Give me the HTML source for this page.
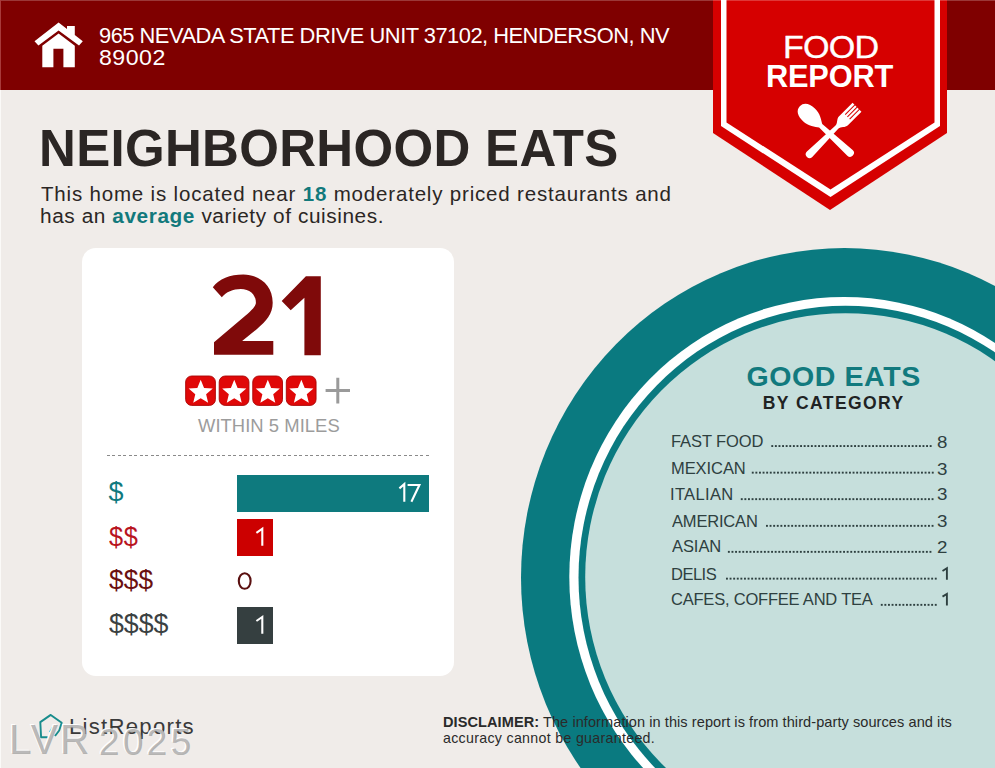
<!DOCTYPE html>
<html><head><meta charset="utf-8">
<style>
html,body{margin:0;padding:0;}
body{width:995px;height:768px;overflow:hidden;position:relative;background:#f0ece9;font-family:"Liberation Sans",sans-serif;}
.abs{position:absolute;}
.t{position:absolute;white-space:nowrap;}
.dots{position:absolute;height:1.8px;background:repeating-linear-gradient(90deg,#34403f 0 1.8px,transparent 1.8px 3.6px);}
</style></head>
<body>
<div class="abs" style="left:0;top:0;width:995px;height:90px;background:#7f0000;"></div>
<svg class="abs" style="left:0;top:0" width="120" height="90" viewBox="0 0 120 90">
  <path d="M34.5 41.2 L58.6 22.6 L67 29 L67 26 L74.8 26 L74.8 35 L82.8 41.2 L79 45.6 L58.6 30.6 L38.4 45.6 Z" fill="#fff"/>
  <path d="M42.3 45.8 L58.6 33.4 L74.8 45.8 L74.8 67.3 L63.4 67.3 L63.4 48.8 L53.4 48.8 L53.4 67.3 L42.3 67.3 Z" fill="#fff"/>
</svg>
<svg class="abs" style="left:0;top:0" width="995" height="230" viewBox="0 0 995 230">
  <polygon points="713,0 947,0 947,133 830,210 713,133" fill="#d60000"/>
  <polygon points="721,0 940,0 940,126 830.5,197 721,126" fill="#fff"/>
  <polygon points="726.5,0 934.5,0 934.5,122.5 830.5,189.5 726.5,122.5" fill="#d60000"/>
  <g fill="#fff">
    <g transform="translate(799.8,106.3) rotate(42.9)">
      <path d="M0,0 C0,-6 5.5,-8.7 12.5,-8.7 C20,-8.7 25,-4.5 28.5,-2.3 L68.5,-3.9 A3.9,3.9 0 0 1 68.5,3.9 L28.5,2.3 C25,4.5 20,8.7 12.5,8.7 C5.5,8.7 0,6 0,0 Z"/>
    </g>
    <g transform="translate(806.9,156.9) rotate(-44.7)">
      <path d="M3.8,-3.8 L42,-2.1 C46,-2.1 47.5,-6.3 51.5,-6.3 L70.5,-6.3 L70.5,6.3 L51.5,6.3 C47.5,6.3 46,2.1 42,2.1 L3.8,3.8 A3.8,3.8 0 0 1 3.8,-3.8 Z"/>
      <rect x="57" y="-3.65" width="14" height="1" fill="#d60000"/>
      <rect x="57" y="-0.5" width="14" height="1" fill="#d60000"/>
      <rect x="57" y="2.65" width="14" height="1" fill="#d60000"/>
    </g>
  </g>
</svg>
<div class="abs" style="left:82px;top:248px;width:372px;height:428px;background:#fff;border-radius:14px;"></div>
<svg class="abs" style="left:0;top:0" width="400" height="420" viewBox="0 0 400 420">
  <rect x="185.65" y="376" width="29.75" height="29.4" rx="6" fill="#e00808" stroke="#a80404" stroke-width="0.9"/>
  <polygon points="200.70,379.80 204.05,387.89 212.78,388.58 206.12,394.26 208.16,402.77 200.70,398.20 193.24,402.77 195.28,394.26 188.62,388.58 197.35,387.89" fill="#fff"/>
  <rect x="219.20" y="376" width="29.75" height="29.4" rx="6" fill="#e00808" stroke="#a80404" stroke-width="0.9"/>
  <polygon points="234.25,379.80 237.60,387.89 246.33,388.58 239.67,394.26 241.71,402.77 234.25,398.20 226.79,402.77 228.83,394.26 222.17,388.58 230.90,387.89" fill="#fff"/>
  <rect x="252.75" y="376" width="29.75" height="29.4" rx="6" fill="#e00808" stroke="#a80404" stroke-width="0.9"/>
  <polygon points="267.80,379.80 271.15,387.89 279.88,388.58 273.22,394.26 275.26,402.77 267.80,398.20 260.34,402.77 262.38,394.26 255.72,388.58 264.45,387.89" fill="#fff"/>
  <rect x="286.30" y="376" width="29.75" height="29.4" rx="6" fill="#e00808" stroke="#a80404" stroke-width="0.9"/>
  <polygon points="301.35,379.80 304.70,387.89 313.43,388.58 306.77,394.26 308.81,402.77 301.35,398.20 293.89,402.77 295.93,394.26 289.27,388.58 298.00,387.89" fill="#fff"/>
  <path d="M325.6 390.5 H350 M337.8 377.7 V403.4" stroke="#9a9a9a" stroke-width="3"/>
</svg>
<svg class="abs" style="left:0;top:0" width="400" height="400" viewBox="0 0 400 400">
  <g fill="#7f0a0a">
  <path d="M212.8,287.2 C219,279 230,274.6 243.3,274.6 C260,274.6 272.7,286 272.7,302.7 C272.7,314 266,321 257,329 L242.1,341 L273.3,341 L273.3,354.8 L214,354.8 L214,342.2 L245,316 C252,310 255.9,306 255.9,302.7 C255.9,294 249,289 240.9,289 C233,289 226,292 221.8,297.3 Z"/>
  <polygon points="305.9,276.3 320.8,276.3 320.8,355.3 304.4,355.3 304.4,297.8 290.7,310.3 281.7,300.9"/>
  </g>
</svg>
<div class="abs" style="left:107px;top:455px;width:323px;height:1px;background:repeating-linear-gradient(90deg,#8a8a8a 0 3px,transparent 3px 5.5px);"></div>
<div class="abs" style="left:237px;top:475px;width:192px;height:37px;background:#0e7a7e"></div>
<div class="abs" style="left:237px;top:519px;width:36px;height:37px;background:#cc0000"></div>
<div class="abs" style="left:237px;top:607px;width:36px;height:37px;background:#353f40"></div>
<svg class="abs" style="left:0;top:0" width="995" height="768" viewBox="0 0 995 768">
  <ellipse cx="844.5" cy="577.5" rx="323.5" ry="329.4" fill="#0a7a80"/>
  <ellipse cx="844" cy="577" rx="274.7" ry="280" fill="#fff"/>
  <ellipse cx="845.5" cy="577.5" rx="267" ry="271.7" fill="#0a7a80"/>
  <ellipse cx="845.5" cy="577" rx="260.3" ry="263.7" fill="#c6dfdc"/>
</svg>
<svg class="abs" style="left:0;top:0" width="995" height="768" viewBox="0 0 995 768"><g fill="#2e4040">
<rect x="771.3" y="445.1" width="1.9" height="1.9"/><rect x="774.9" y="445.1" width="1.9" height="1.9"/><rect x="778.5" y="445.1" width="1.9" height="1.9"/><rect x="782.1" y="445.1" width="1.9" height="1.9"/><rect x="785.7" y="445.1" width="1.9" height="1.9"/><rect x="789.3" y="445.1" width="1.9" height="1.9"/><rect x="792.9" y="445.1" width="1.9" height="1.9"/><rect x="796.5" y="445.1" width="1.9" height="1.9"/><rect x="800.1" y="445.1" width="1.9" height="1.9"/><rect x="803.7" y="445.1" width="1.9" height="1.9"/><rect x="807.3" y="445.1" width="1.9" height="1.9"/><rect x="810.9" y="445.1" width="1.9" height="1.9"/><rect x="814.5" y="445.1" width="1.9" height="1.9"/><rect x="818.1" y="445.1" width="1.9" height="1.9"/><rect x="821.7" y="445.1" width="1.9" height="1.9"/><rect x="825.3" y="445.1" width="1.9" height="1.9"/><rect x="828.9" y="445.1" width="1.9" height="1.9"/><rect x="832.5" y="445.1" width="1.9" height="1.9"/><rect x="836.1" y="445.1" width="1.9" height="1.9"/><rect x="839.7" y="445.1" width="1.9" height="1.9"/><rect x="843.3" y="445.1" width="1.9" height="1.9"/><rect x="846.9" y="445.1" width="1.9" height="1.9"/><rect x="850.5" y="445.1" width="1.9" height="1.9"/><rect x="854.1" y="445.1" width="1.9" height="1.9"/><rect x="857.7" y="445.1" width="1.9" height="1.9"/><rect x="861.3" y="445.1" width="1.9" height="1.9"/><rect x="864.9" y="445.1" width="1.9" height="1.9"/><rect x="868.5" y="445.1" width="1.9" height="1.9"/><rect x="872.1" y="445.1" width="1.9" height="1.9"/><rect x="875.7" y="445.1" width="1.9" height="1.9"/><rect x="879.3" y="445.1" width="1.9" height="1.9"/><rect x="882.9" y="445.1" width="1.9" height="1.9"/><rect x="886.5" y="445.1" width="1.9" height="1.9"/><rect x="890.1" y="445.1" width="1.9" height="1.9"/><rect x="893.7" y="445.1" width="1.9" height="1.9"/><rect x="897.3" y="445.1" width="1.9" height="1.9"/><rect x="900.9" y="445.1" width="1.9" height="1.9"/><rect x="904.5" y="445.1" width="1.9" height="1.9"/><rect x="908.1" y="445.1" width="1.9" height="1.9"/><rect x="911.7" y="445.1" width="1.9" height="1.9"/><rect x="915.3" y="445.1" width="1.9" height="1.9"/><rect x="918.9" y="445.1" width="1.9" height="1.9"/><rect x="922.5" y="445.1" width="1.9" height="1.9"/><rect x="926.1" y="445.1" width="1.9" height="1.9"/><rect x="929.7" y="445.1" width="1.9" height="1.9"/>
<rect x="751.8" y="471.7" width="1.9" height="1.9"/><rect x="755.4" y="471.7" width="1.9" height="1.9"/><rect x="759.0" y="471.7" width="1.9" height="1.9"/><rect x="762.6" y="471.7" width="1.9" height="1.9"/><rect x="766.2" y="471.7" width="1.9" height="1.9"/><rect x="769.8" y="471.7" width="1.9" height="1.9"/><rect x="773.4" y="471.7" width="1.9" height="1.9"/><rect x="777.0" y="471.7" width="1.9" height="1.9"/><rect x="780.6" y="471.7" width="1.9" height="1.9"/><rect x="784.2" y="471.7" width="1.9" height="1.9"/><rect x="787.8" y="471.7" width="1.9" height="1.9"/><rect x="791.4" y="471.7" width="1.9" height="1.9"/><rect x="795.0" y="471.7" width="1.9" height="1.9"/><rect x="798.6" y="471.7" width="1.9" height="1.9"/><rect x="802.2" y="471.7" width="1.9" height="1.9"/><rect x="805.8" y="471.7" width="1.9" height="1.9"/><rect x="809.4" y="471.7" width="1.9" height="1.9"/><rect x="813.0" y="471.7" width="1.9" height="1.9"/><rect x="816.6" y="471.7" width="1.9" height="1.9"/><rect x="820.2" y="471.7" width="1.9" height="1.9"/><rect x="823.8" y="471.7" width="1.9" height="1.9"/><rect x="827.4" y="471.7" width="1.9" height="1.9"/><rect x="831.0" y="471.7" width="1.9" height="1.9"/><rect x="834.6" y="471.7" width="1.9" height="1.9"/><rect x="838.2" y="471.7" width="1.9" height="1.9"/><rect x="841.8" y="471.7" width="1.9" height="1.9"/><rect x="845.4" y="471.7" width="1.9" height="1.9"/><rect x="849.0" y="471.7" width="1.9" height="1.9"/><rect x="852.6" y="471.7" width="1.9" height="1.9"/><rect x="856.2" y="471.7" width="1.9" height="1.9"/><rect x="859.8" y="471.7" width="1.9" height="1.9"/><rect x="863.4" y="471.7" width="1.9" height="1.9"/><rect x="867.0" y="471.7" width="1.9" height="1.9"/><rect x="870.6" y="471.7" width="1.9" height="1.9"/><rect x="874.2" y="471.7" width="1.9" height="1.9"/><rect x="877.8" y="471.7" width="1.9" height="1.9"/><rect x="881.4" y="471.7" width="1.9" height="1.9"/><rect x="885.0" y="471.7" width="1.9" height="1.9"/><rect x="888.6" y="471.7" width="1.9" height="1.9"/><rect x="892.2" y="471.7" width="1.9" height="1.9"/><rect x="895.8" y="471.7" width="1.9" height="1.9"/><rect x="899.4" y="471.7" width="1.9" height="1.9"/><rect x="903.0" y="471.7" width="1.9" height="1.9"/><rect x="906.6" y="471.7" width="1.9" height="1.9"/><rect x="910.2" y="471.7" width="1.9" height="1.9"/><rect x="913.8" y="471.7" width="1.9" height="1.9"/><rect x="917.4" y="471.7" width="1.9" height="1.9"/><rect x="921.0" y="471.7" width="1.9" height="1.9"/><rect x="924.6" y="471.7" width="1.9" height="1.9"/><rect x="928.2" y="471.7" width="1.9" height="1.9"/><rect x="931.8" y="471.7" width="1.9" height="1.9"/>
<rect x="740.8" y="498.2" width="1.9" height="1.9"/><rect x="744.4" y="498.2" width="1.9" height="1.9"/><rect x="748.0" y="498.2" width="1.9" height="1.9"/><rect x="751.6" y="498.2" width="1.9" height="1.9"/><rect x="755.2" y="498.2" width="1.9" height="1.9"/><rect x="758.8" y="498.2" width="1.9" height="1.9"/><rect x="762.4" y="498.2" width="1.9" height="1.9"/><rect x="766.0" y="498.2" width="1.9" height="1.9"/><rect x="769.6" y="498.2" width="1.9" height="1.9"/><rect x="773.2" y="498.2" width="1.9" height="1.9"/><rect x="776.8" y="498.2" width="1.9" height="1.9"/><rect x="780.4" y="498.2" width="1.9" height="1.9"/><rect x="784.0" y="498.2" width="1.9" height="1.9"/><rect x="787.6" y="498.2" width="1.9" height="1.9"/><rect x="791.2" y="498.2" width="1.9" height="1.9"/><rect x="794.8" y="498.2" width="1.9" height="1.9"/><rect x="798.4" y="498.2" width="1.9" height="1.9"/><rect x="802.0" y="498.2" width="1.9" height="1.9"/><rect x="805.6" y="498.2" width="1.9" height="1.9"/><rect x="809.2" y="498.2" width="1.9" height="1.9"/><rect x="812.8" y="498.2" width="1.9" height="1.9"/><rect x="816.4" y="498.2" width="1.9" height="1.9"/><rect x="820.0" y="498.2" width="1.9" height="1.9"/><rect x="823.6" y="498.2" width="1.9" height="1.9"/><rect x="827.2" y="498.2" width="1.9" height="1.9"/><rect x="830.8" y="498.2" width="1.9" height="1.9"/><rect x="834.4" y="498.2" width="1.9" height="1.9"/><rect x="838.0" y="498.2" width="1.9" height="1.9"/><rect x="841.6" y="498.2" width="1.9" height="1.9"/><rect x="845.2" y="498.2" width="1.9" height="1.9"/><rect x="848.8" y="498.2" width="1.9" height="1.9"/><rect x="852.4" y="498.2" width="1.9" height="1.9"/><rect x="856.0" y="498.2" width="1.9" height="1.9"/><rect x="859.6" y="498.2" width="1.9" height="1.9"/><rect x="863.2" y="498.2" width="1.9" height="1.9"/><rect x="866.8" y="498.2" width="1.9" height="1.9"/><rect x="870.4" y="498.2" width="1.9" height="1.9"/><rect x="874.0" y="498.2" width="1.9" height="1.9"/><rect x="877.6" y="498.2" width="1.9" height="1.9"/><rect x="881.2" y="498.2" width="1.9" height="1.9"/><rect x="884.8" y="498.2" width="1.9" height="1.9"/><rect x="888.4" y="498.2" width="1.9" height="1.9"/><rect x="892.0" y="498.2" width="1.9" height="1.9"/><rect x="895.6" y="498.2" width="1.9" height="1.9"/><rect x="899.2" y="498.2" width="1.9" height="1.9"/><rect x="902.8" y="498.2" width="1.9" height="1.9"/><rect x="906.4" y="498.2" width="1.9" height="1.9"/><rect x="910.0" y="498.2" width="1.9" height="1.9"/><rect x="913.6" y="498.2" width="1.9" height="1.9"/><rect x="917.2" y="498.2" width="1.9" height="1.9"/><rect x="920.8" y="498.2" width="1.9" height="1.9"/><rect x="924.4" y="498.2" width="1.9" height="1.9"/><rect x="928.0" y="498.2" width="1.9" height="1.9"/><rect x="931.6" y="498.2" width="1.9" height="1.9"/>
<rect x="766.0" y="524.9" width="1.9" height="1.9"/><rect x="769.6" y="524.9" width="1.9" height="1.9"/><rect x="773.2" y="524.9" width="1.9" height="1.9"/><rect x="776.8" y="524.9" width="1.9" height="1.9"/><rect x="780.4" y="524.9" width="1.9" height="1.9"/><rect x="784.0" y="524.9" width="1.9" height="1.9"/><rect x="787.6" y="524.9" width="1.9" height="1.9"/><rect x="791.2" y="524.9" width="1.9" height="1.9"/><rect x="794.8" y="524.9" width="1.9" height="1.9"/><rect x="798.4" y="524.9" width="1.9" height="1.9"/><rect x="802.0" y="524.9" width="1.9" height="1.9"/><rect x="805.6" y="524.9" width="1.9" height="1.9"/><rect x="809.2" y="524.9" width="1.9" height="1.9"/><rect x="812.8" y="524.9" width="1.9" height="1.9"/><rect x="816.4" y="524.9" width="1.9" height="1.9"/><rect x="820.0" y="524.9" width="1.9" height="1.9"/><rect x="823.6" y="524.9" width="1.9" height="1.9"/><rect x="827.2" y="524.9" width="1.9" height="1.9"/><rect x="830.8" y="524.9" width="1.9" height="1.9"/><rect x="834.4" y="524.9" width="1.9" height="1.9"/><rect x="838.0" y="524.9" width="1.9" height="1.9"/><rect x="841.6" y="524.9" width="1.9" height="1.9"/><rect x="845.2" y="524.9" width="1.9" height="1.9"/><rect x="848.8" y="524.9" width="1.9" height="1.9"/><rect x="852.4" y="524.9" width="1.9" height="1.9"/><rect x="856.0" y="524.9" width="1.9" height="1.9"/><rect x="859.6" y="524.9" width="1.9" height="1.9"/><rect x="863.2" y="524.9" width="1.9" height="1.9"/><rect x="866.8" y="524.9" width="1.9" height="1.9"/><rect x="870.4" y="524.9" width="1.9" height="1.9"/><rect x="874.0" y="524.9" width="1.9" height="1.9"/><rect x="877.6" y="524.9" width="1.9" height="1.9"/><rect x="881.2" y="524.9" width="1.9" height="1.9"/><rect x="884.8" y="524.9" width="1.9" height="1.9"/><rect x="888.4" y="524.9" width="1.9" height="1.9"/><rect x="892.0" y="524.9" width="1.9" height="1.9"/><rect x="895.6" y="524.9" width="1.9" height="1.9"/><rect x="899.2" y="524.9" width="1.9" height="1.9"/><rect x="902.8" y="524.9" width="1.9" height="1.9"/><rect x="906.4" y="524.9" width="1.9" height="1.9"/><rect x="910.0" y="524.9" width="1.9" height="1.9"/><rect x="913.6" y="524.9" width="1.9" height="1.9"/><rect x="917.2" y="524.9" width="1.9" height="1.9"/><rect x="920.8" y="524.9" width="1.9" height="1.9"/><rect x="924.4" y="524.9" width="1.9" height="1.9"/><rect x="928.0" y="524.9" width="1.9" height="1.9"/><rect x="931.6" y="524.9" width="1.9" height="1.9"/>
<rect x="727.9" y="550.9" width="1.9" height="1.9"/><rect x="731.5" y="550.9" width="1.9" height="1.9"/><rect x="735.1" y="550.9" width="1.9" height="1.9"/><rect x="738.7" y="550.9" width="1.9" height="1.9"/><rect x="742.3" y="550.9" width="1.9" height="1.9"/><rect x="745.9" y="550.9" width="1.9" height="1.9"/><rect x="749.5" y="550.9" width="1.9" height="1.9"/><rect x="753.1" y="550.9" width="1.9" height="1.9"/><rect x="756.7" y="550.9" width="1.9" height="1.9"/><rect x="760.3" y="550.9" width="1.9" height="1.9"/><rect x="763.9" y="550.9" width="1.9" height="1.9"/><rect x="767.5" y="550.9" width="1.9" height="1.9"/><rect x="771.1" y="550.9" width="1.9" height="1.9"/><rect x="774.7" y="550.9" width="1.9" height="1.9"/><rect x="778.3" y="550.9" width="1.9" height="1.9"/><rect x="781.9" y="550.9" width="1.9" height="1.9"/><rect x="785.5" y="550.9" width="1.9" height="1.9"/><rect x="789.1" y="550.9" width="1.9" height="1.9"/><rect x="792.7" y="550.9" width="1.9" height="1.9"/><rect x="796.3" y="550.9" width="1.9" height="1.9"/><rect x="799.9" y="550.9" width="1.9" height="1.9"/><rect x="803.5" y="550.9" width="1.9" height="1.9"/><rect x="807.1" y="550.9" width="1.9" height="1.9"/><rect x="810.7" y="550.9" width="1.9" height="1.9"/><rect x="814.3" y="550.9" width="1.9" height="1.9"/><rect x="817.9" y="550.9" width="1.9" height="1.9"/><rect x="821.5" y="550.9" width="1.9" height="1.9"/><rect x="825.1" y="550.9" width="1.9" height="1.9"/><rect x="828.7" y="550.9" width="1.9" height="1.9"/><rect x="832.3" y="550.9" width="1.9" height="1.9"/><rect x="835.9" y="550.9" width="1.9" height="1.9"/><rect x="839.5" y="550.9" width="1.9" height="1.9"/><rect x="843.1" y="550.9" width="1.9" height="1.9"/><rect x="846.7" y="550.9" width="1.9" height="1.9"/><rect x="850.3" y="550.9" width="1.9" height="1.9"/><rect x="853.9" y="550.9" width="1.9" height="1.9"/><rect x="857.5" y="550.9" width="1.9" height="1.9"/><rect x="861.1" y="550.9" width="1.9" height="1.9"/><rect x="864.7" y="550.9" width="1.9" height="1.9"/><rect x="868.3" y="550.9" width="1.9" height="1.9"/><rect x="871.9" y="550.9" width="1.9" height="1.9"/><rect x="875.5" y="550.9" width="1.9" height="1.9"/><rect x="879.1" y="550.9" width="1.9" height="1.9"/><rect x="882.7" y="550.9" width="1.9" height="1.9"/><rect x="886.3" y="550.9" width="1.9" height="1.9"/><rect x="889.9" y="550.9" width="1.9" height="1.9"/><rect x="893.5" y="550.9" width="1.9" height="1.9"/><rect x="897.1" y="550.9" width="1.9" height="1.9"/><rect x="900.7" y="550.9" width="1.9" height="1.9"/><rect x="904.3" y="550.9" width="1.9" height="1.9"/><rect x="907.9" y="550.9" width="1.9" height="1.9"/><rect x="911.5" y="550.9" width="1.9" height="1.9"/><rect x="915.1" y="550.9" width="1.9" height="1.9"/><rect x="918.7" y="550.9" width="1.9" height="1.9"/><rect x="922.3" y="550.9" width="1.9" height="1.9"/><rect x="925.9" y="550.9" width="1.9" height="1.9"/><rect x="929.5" y="550.9" width="1.9" height="1.9"/>
<rect x="726.0" y="577.7" width="1.9" height="1.9"/><rect x="729.6" y="577.7" width="1.9" height="1.9"/><rect x="733.2" y="577.7" width="1.9" height="1.9"/><rect x="736.8" y="577.7" width="1.9" height="1.9"/><rect x="740.4" y="577.7" width="1.9" height="1.9"/><rect x="744.0" y="577.7" width="1.9" height="1.9"/><rect x="747.6" y="577.7" width="1.9" height="1.9"/><rect x="751.2" y="577.7" width="1.9" height="1.9"/><rect x="754.8" y="577.7" width="1.9" height="1.9"/><rect x="758.4" y="577.7" width="1.9" height="1.9"/><rect x="762.0" y="577.7" width="1.9" height="1.9"/><rect x="765.6" y="577.7" width="1.9" height="1.9"/><rect x="769.2" y="577.7" width="1.9" height="1.9"/><rect x="772.8" y="577.7" width="1.9" height="1.9"/><rect x="776.4" y="577.7" width="1.9" height="1.9"/><rect x="780.0" y="577.7" width="1.9" height="1.9"/><rect x="783.6" y="577.7" width="1.9" height="1.9"/><rect x="787.2" y="577.7" width="1.9" height="1.9"/><rect x="790.8" y="577.7" width="1.9" height="1.9"/><rect x="794.4" y="577.7" width="1.9" height="1.9"/><rect x="798.0" y="577.7" width="1.9" height="1.9"/><rect x="801.6" y="577.7" width="1.9" height="1.9"/><rect x="805.2" y="577.7" width="1.9" height="1.9"/><rect x="808.8" y="577.7" width="1.9" height="1.9"/><rect x="812.4" y="577.7" width="1.9" height="1.9"/><rect x="816.0" y="577.7" width="1.9" height="1.9"/><rect x="819.6" y="577.7" width="1.9" height="1.9"/><rect x="823.2" y="577.7" width="1.9" height="1.9"/><rect x="826.8" y="577.7" width="1.9" height="1.9"/><rect x="830.4" y="577.7" width="1.9" height="1.9"/><rect x="834.0" y="577.7" width="1.9" height="1.9"/><rect x="837.6" y="577.7" width="1.9" height="1.9"/><rect x="841.2" y="577.7" width="1.9" height="1.9"/><rect x="844.8" y="577.7" width="1.9" height="1.9"/><rect x="848.4" y="577.7" width="1.9" height="1.9"/><rect x="852.0" y="577.7" width="1.9" height="1.9"/><rect x="855.6" y="577.7" width="1.9" height="1.9"/><rect x="859.2" y="577.7" width="1.9" height="1.9"/><rect x="862.8" y="577.7" width="1.9" height="1.9"/><rect x="866.4" y="577.7" width="1.9" height="1.9"/><rect x="870.0" y="577.7" width="1.9" height="1.9"/><rect x="873.6" y="577.7" width="1.9" height="1.9"/><rect x="877.2" y="577.7" width="1.9" height="1.9"/><rect x="880.8" y="577.7" width="1.9" height="1.9"/><rect x="884.4" y="577.7" width="1.9" height="1.9"/><rect x="888.0" y="577.7" width="1.9" height="1.9"/><rect x="891.6" y="577.7" width="1.9" height="1.9"/><rect x="895.2" y="577.7" width="1.9" height="1.9"/><rect x="898.8" y="577.7" width="1.9" height="1.9"/><rect x="902.4" y="577.7" width="1.9" height="1.9"/><rect x="906.0" y="577.7" width="1.9" height="1.9"/><rect x="909.6" y="577.7" width="1.9" height="1.9"/><rect x="913.2" y="577.7" width="1.9" height="1.9"/><rect x="916.8" y="577.7" width="1.9" height="1.9"/><rect x="920.4" y="577.7" width="1.9" height="1.9"/><rect x="924.0" y="577.7" width="1.9" height="1.9"/><rect x="927.6" y="577.7" width="1.9" height="1.9"/><rect x="931.2" y="577.7" width="1.9" height="1.9"/><rect x="934.8" y="577.7" width="1.9" height="1.9"/>
<rect x="880.8" y="603.9" width="1.9" height="1.9"/><rect x="884.4" y="603.9" width="1.9" height="1.9"/><rect x="888.0" y="603.9" width="1.9" height="1.9"/><rect x="891.6" y="603.9" width="1.9" height="1.9"/><rect x="895.2" y="603.9" width="1.9" height="1.9"/><rect x="898.8" y="603.9" width="1.9" height="1.9"/><rect x="902.4" y="603.9" width="1.9" height="1.9"/><rect x="906.0" y="603.9" width="1.9" height="1.9"/><rect x="909.6" y="603.9" width="1.9" height="1.9"/><rect x="913.2" y="603.9" width="1.9" height="1.9"/><rect x="916.8" y="603.9" width="1.9" height="1.9"/><rect x="920.4" y="603.9" width="1.9" height="1.9"/><rect x="924.0" y="603.9" width="1.9" height="1.9"/><rect x="927.6" y="603.9" width="1.9" height="1.9"/><rect x="931.2" y="603.9" width="1.9" height="1.9"/><rect x="934.8" y="603.9" width="1.9" height="1.9"/>
</g></svg>
<svg class="abs" style="left:30px;top:705px" width="40" height="40" viewBox="30 705 40 40">
  <path d="M47.6,737.2 L41.1,737.2 L40.3,722.1 L50.75,714.9 L61.7,722.7 L59.2,730.5 L55,736" fill="none" stroke="#188c8c" stroke-width="1.9" stroke-linejoin="round"/>
  <path d="M49.5,732 L52.5,727" fill="none" stroke="#3aa" stroke-width="1.2"/>
</svg>
<div id="addr1" class="t" style="left:99px;top:24.5px;font-size:21.88px;line-height:21.88px;letter-spacing:-0.5px;color:#fff">965 NEVADA STATE DRIVE UNIT 37102, HENDERSON, NV</div>
<div id="addr2" class="t" style="left:99px;top:47.69px;font-size:21.43px;line-height:21.43px;letter-spacing:0.458px;transform:scaleX(1.08);transform-origin:0 0;color:#fff">89002</div>
<div id="food" class="t" style="left:782.5px;top:31.94px;font-size:31.59px;line-height:31.59px;letter-spacing:-0.775px;transform:scaleX(1.08);transform-origin:0 0;color:#fff;-webkit-text-stroke:0.35px #fff">FOOD</div>
<div id="report" class="t" style="left:766.4px;top:60.62px;font-size:31.74px;line-height:31.74px;letter-spacing:-0.218px;transform:scaleX(0.97);transform-origin:0 0;color:#fff;font-weight:bold">REPORT</div>
<div id="title" class="t" style="left:39.0px;top:123.04px;font-size:51.01px;line-height:51.01px;letter-spacing:0.312px;color:#2b2624;font-weight:bold">NEIGHBORHOOD EATS</div>
<div id="sub1" class="t" style="left:40.5px;top:183.58px;font-size:20.14px;line-height:20.14px;letter-spacing:0.791px;transform:scaleX(1.02);transform-origin:0 0;color:#2b2624">This home is located near <b style="color:#12797c">18</b> moderately priced restaurants and</div>
<div id="sub2" class="t" style="left:39.5px;top:205.75px;font-size:20.42px;line-height:20.42px;letter-spacing:0.563px;transform:scaleX(1.02);transform-origin:0 0;color:#2b2624">has an <b style="color:#12797c">average</b> variety of cuisines.</div>
<div id="within" class="t" style="left:198px;top:417.26px;font-size:18.41px;line-height:18.41px;letter-spacing:0.045px;color:#9c9c9c">WITHIN 5 MILES</div>
<div id="ge" class="t" style="left:746.4px;top:361.83px;font-size:28.55px;line-height:28.55px;letter-spacing:0.586px;color:#127a7e;font-weight:bold">GOOD EATS</div>
<div id="bc" class="t" style="left:762.8px;top:394.99px;font-size:17.54px;line-height:17.54px;letter-spacing:1.41px;color:#1f2323;font-weight:bold">BY CATEGORY</div>
<div id="lr" class="t" style="left:69px;top:716.25px;font-size:22.17px;line-height:22.17px;letter-spacing:1.26px;color:#3a3a3a">ListReports</div>
<div id="wm1" class="t" style="left:9px;top:717.61px;font-size:43.04px;line-height:43.04px;letter-spacing:2.175px;transform:scaleX(0.95);transform-origin:0 0;color:rgba(140,140,140,0.62);text-shadow:-1.3px -1.3px 0 rgba(255,255,255,0.95)">LVR</div>
<div id="wm2" class="t" style="left:99px;top:723.55px;font-size:37.0px;line-height:37.0px;letter-spacing:3.314px;color:rgba(140,140,140,0.62);text-shadow:-1.3px -1.3px 0 rgba(255,255,255,0.95)">2025</div>
<div id="disc1" class="t" style="left:443px;top:715.01px;font-size:14.57px;line-height:14.57px;letter-spacing:0.063px;color:#2a2a2a"><b>DISCLAIMER:</b> The information in this report is from third-party sources and its</div>
<div id="disc2" class="t" style="left:443px;top:730.57px;font-size:14.2px;line-height:14.2px;letter-spacing:0.311px;color:#2a2a2a">accuracy cannot be guaranteed.</div>
<div id="cat1" class="t" style="left:670.5px;top:433.42px;font-size:17.39px;line-height:17.39px;letter-spacing:-0.099px;transform:scaleX(0.95);transform-origin:0 0;color:#2e4040">FAST FOOD</div>
<div id="num1" class="t" style="left:937.2px;top:433.76px;font-size:16.29px;line-height:16.29px;letter-spacing:0px;transform:scaleX(1.15);transform-origin:0 0;color:#2e4040">8</div>
<div id="cat2" class="t" style="left:670.5px;top:459.92px;font-size:17.39px;line-height:17.39px;letter-spacing:-0.077px;transform:scaleX(0.95);transform-origin:0 0;color:#2e4040">MEXICAN</div>
<div id="num2" class="t" style="left:937.2px;top:460.76px;font-size:16.29px;line-height:16.29px;letter-spacing:0px;transform:scaleX(1.15);transform-origin:0 0;color:#2e4040">3</div>
<div id="cat3" class="t" style="left:669.5px;top:485.82px;font-size:17.39px;line-height:17.39px;letter-spacing:0.359px;transform:scaleX(0.95);transform-origin:0 0;color:#2e4040">ITALIAN</div>
<div id="num3" class="t" style="left:937.2px;top:485.96px;font-size:16.29px;line-height:16.29px;letter-spacing:0px;transform:scaleX(1.15);transform-origin:0 0;color:#2e4040">3</div>
<div id="cat4" class="t" style="left:671.5px;top:513.12px;font-size:17.39px;line-height:17.39px;letter-spacing:-0.197px;transform:scaleX(0.95);transform-origin:0 0;color:#2e4040">AMERICAN</div>
<div id="num4" class="t" style="left:937.2px;top:513.36px;font-size:16.29px;line-height:16.29px;letter-spacing:0px;transform:scaleX(1.15);transform-origin:0 0;color:#2e4040">3</div>
<div id="cat5" class="t" style="left:671.5px;top:538.42px;font-size:17.39px;line-height:17.39px;letter-spacing:-0.076px;transform:scaleX(0.95);transform-origin:0 0;color:#2e4040">ASIAN</div>
<div id="num5" class="t" style="left:937.0px;top:538.76px;font-size:16.29px;line-height:16.29px;letter-spacing:0px;transform:scaleX(1.15);transform-origin:0 0;color:#2e4040">2</div>
<div id="cat6" class="t" style="left:670.5px;top:566.12px;font-size:17.39px;line-height:17.39px;letter-spacing:-0.525px;transform:scaleX(0.95);transform-origin:0 0;color:#2e4040">DELIS</div>
<div id="cat7" class="t" style="left:670.5px;top:591.02px;font-size:17.39px;line-height:17.39px;letter-spacing:-0.224px;transform:scaleX(0.95);transform-origin:0 0;color:#2e4040">CAFES, COFFEE AND TEA</div>
<div id="lab1" class="t" style="left:108.6px;top:479.19px;font-size:26.95px;line-height:26.95px;letter-spacing:0px;color:#107a7e">$</div>
<div id="lab2" class="t" style="left:109.3px;top:522.68px;font-size:27.32px;line-height:27.32px;letter-spacing:0.774px;transform:scaleX(0.93);transform-origin:0 0;color:#b8141e">$$</div>
<div id="lab3" class="t" style="left:109.3px;top:565.98px;font-size:27.32px;line-height:27.32px;letter-spacing:0.133px;transform:scaleX(0.96);transform-origin:0 0;color:#6a1010">$$$</div>
<div id="lab4" class="t" style="left:109.3px;top:609.88px;font-size:27.32px;line-height:27.32px;letter-spacing:-0.064px;transform:scaleX(0.98);transform-origin:0 0;color:#3b4142">$$$$</div>
<svg class="abs" style="left:0;top:0" width="995" height="768" viewBox="0 0 995 768">
  <g fill="none" stroke="#fff" stroke-width="2.1" stroke-linejoin="miter">
    <path d="M399.4,488.4 L404.3,484.1 L404.3,501.7"/>
    <path d="M407.6,485 L419.4,485 L411.4,501.7"/>
    <path d="M256.4,532.8 L262.3,528.7 L262.3,545.8"/>
    <path d="M256.4,621 L262.3,617 L262.3,633.8"/>
  </g>
  <ellipse cx="244.7" cy="581" rx="5.9" ry="7.8" fill="none" stroke="#5a1010" stroke-width="2.1"/>
  <g fill="none" stroke="#2e4040" stroke-width="1.9">
    <path d="M942.5,571 L946.9,568.3 L946.9,579.8"/>
    <path d="M942.5,596.6 L946.9,593.9 L946.9,605.4"/>
  </g>
</svg>

<div class="abs" style="left:0;top:0;width:995px;height:1px;background:rgba(255,255,255,0.22)"></div>
<div class="abs" style="left:0;top:0;width:1px;height:90px;background:#a83a3a"></div>
<div class="abs" style="left:0;top:90px;width:1px;height:678px;background:#fbfaf8"></div>
</body></html>
